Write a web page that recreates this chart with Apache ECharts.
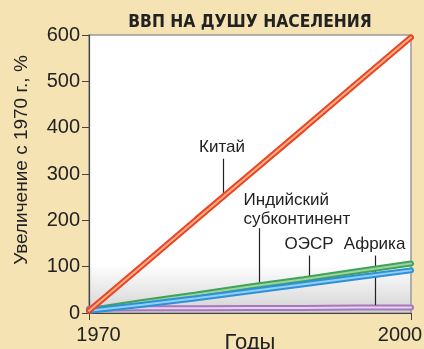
<!DOCTYPE html>
<html>
<head>
<meta charset="utf-8">
<script src="https://cdn.jsdelivr.net/npm/echarts@6/dist/echarts.min.js"></script>
<style>
  html, body { margin: 0; padding: 0; background: #f6e3b4; }
  #chart { width: 424px; height: 349px; }
</style>
</head>
<body>
<div id="chart"></div>
<script>
// Per-capita GDP growth since 1970, percent
const years = [1970, 1975, 1980, 1985, 1990, 1995, 2000];
const china = [5, 103, 202, 300, 398, 497, 595];
const indianSubcontinent = [6, 24, 40, 57, 73, 90, 107];
const oecd = [5, 18, 32, 47, 62, 77, 92];
const africa = [9, 10, 10, 11, 11, 12, 12];
const yTicks = [0, 100, 200, 300, 400, 500, 600];
const xTicks = [1970, 2000];

// Annotation labels: text, [year, value] of the text, leader [year, from value, to value]
const notes = [
  { text: 'Китай', at: [1982.4, 357], lead: [1982.5, 333, 258], align: 'center' },
  { text: 'Индийский\nсубконтинент', at: [1984.4, 223], lead: [1985.9, 183, 66], align: 'left' },
  { text: 'ОЭСР', at: [1990.5, 148], lead: [1990.5, 124, 63], align: 'center' },
  { text: 'Африка', at: [1996.6, 148], lead: [1996.7, 124, 17], align: 'center' }
];

const pairs = arr => years.map((y, i) => [y, arr[i]]);

// each series is a tube: a thick dark stroke with a thin light highlight on top
function tube(name, data, dark, light, z) {
  return [
    { name, type: 'line', data: pairs(data), symbol: 'none', z,
      lineStyle: { color: dark, width: 6, cap: 'round' }, silent: true },
    { name: name + '-hl', type: 'line', data: pairs(data), symbol: 'none', z: z + 1,
      lineStyle: { color: light, width: 2, cap: 'round' }, silent: true }
  ];
}

const font = 'Liberation Sans, Arial, sans-serif';
const chart = echarts.init(document.getElementById('chart'), null, { renderer: 'canvas' });

const series = [
  ...tube('Африка', africa, '#a878bf', '#e6d3ee', 3),
  ...tube('Индийский субконтинент', indianSubcontinent, '#3fa35a', '#9ad49f', 5),
  ...tube('ОЭСР', oecd, '#2f8fd8', '#8fd0f5', 7),
  ...tube('Китай', china, '#ec4422', '#f8b088', 9)
];

// leader lines and label texts in data coordinates
series.push({
  type: 'line', data: [], z: 20, silent: true,
  markLine: {
    symbol: 'none', silent: true, animation: false,
    label: { show: false },
    lineStyle: { color: '#222', width: 1.2, type: 'solid' },
    data: notes.map(n => [{ coord: [n.lead[0], n.lead[1]] }, { coord: [n.lead[0], n.lead[2]] }])
  },
  markPoint: {
    symbol: 'circle', symbolSize: 0, silent: true, animation: false,
    data: notes.map(n => ({
      coord: n.at,
      label: { show: true, formatter: n.text, color: '#222', fontSize: 17, fontFamily: font,
        lineHeight: 19, align: n.align, verticalAlign: 'middle', position: 'inside' }
    }))
  }
});

chart.setOption({
  animation: false,
  backgroundColor: '#f6e3b4',
  title: {
    text: 'ВВП НА ДУШУ НАСЕЛЕНИЯ', left: 245, top: 9, textAlign: 'center',
    textStyle: { fontFamily: 'DejaVu Sans Condensed, DejaVu Sans, sans-serif', fontWeight: 'bold', fontSize: 17.3, color: '#222' }
  },
  grid: {
    left: 89, right: 13, top: 35, bottom: 36, show: true,
    outerBoundsMode: 'none',
    borderColor: '#9a9a9a', borderWidth: 1.5,
    backgroundColor: {
      type: 'linear', x: 0, y: 0, x2: 0, y2: 1,
      colorStops: [
        { offset: 0, color: '#ffffff' },
        { offset: 0.82, color: '#ffffff' },
        { offset: 0.94, color: '#e2e2e2' },
        { offset: 1, color: '#cfcfcf' }
      ]
    }
  },
  xAxis: {
    type: 'value', min: xTicks[0], max: xTicks[xTicks.length - 1], interval: 30,
    name: 'Годы', nameLocation: 'middle', nameGap: 19, nameMoveOverlap: false,
    nameTextStyle: { fontFamily: font, fontSize: 22, color: '#222' },
    axisLine: { show: true, lineStyle: { color: '#444', width: 1.2 } },
    axisTick: { show: true, length: 7, lineStyle: { color: '#444' } },
    axisLabel: {
      fontFamily: font, fontSize: 20, color: '#222', margin: 12,
      formatter: v => v === xTicks[0] ? '{a|' + v + '}' : (v === xTicks[1] ? '{b|' + v + '}' : ''),
      rich: {
        a: { fontFamily: font, fontSize: 20, color: '#222', padding: [0, 0, 0, 19] },
        b: { fontFamily: font, fontSize: 20, color: '#222', padding: [0, 22, 0, 0] }
      }
    },
    splitLine: { show: false }
  },
  yAxis: {
    type: 'value', min: yTicks[0], max: yTicks[yTicks.length - 1], interval: 100,
    name: 'Увеличение с 1970 г., %', nameLocation: 'middle', nameGap: 58, nameRotate: 90,
    nameTextStyle: { fontFamily: font, fontSize: 19, color: '#222', padding: [0, 0, 0, 28] },
    axisLine: { show: true, lineStyle: { color: '#444', width: 1.2 } },
    axisTick: { show: true, length: 7, lineStyle: { color: '#444' } },
    axisLabel: { fontFamily: font, fontSize: 20, color: '#222', margin: 9 },
    splitLine: { show: false }
  },
  series
});
</script>
</body>
</html>
